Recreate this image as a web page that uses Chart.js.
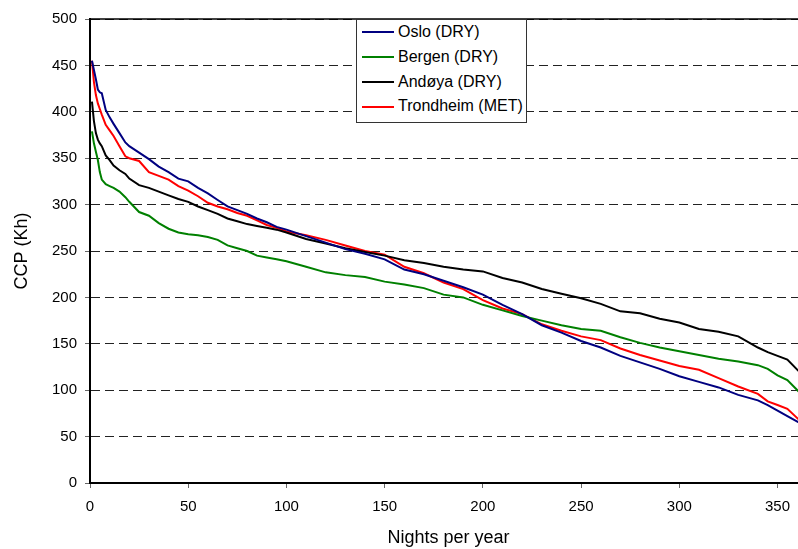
<!DOCTYPE html>
<html>
<head>
    <title>CCP (Kh) - Nights per year</title>
    <script src="https://cdn.jsdelivr.net/npm/chart.js"></script>
    <style>
        html, body {
            margin: 0;
            padding: 0;
            background: #fff;
            overflow: hidden;
        }

        .wrap {
            position: relative;
            width: 810px;
            height: 549px;
        }

        .legend {
            position: absolute;
            left: 356px;
            top: 19px;
            width: 171px;
            height: 104px;
            box-sizing: border-box;
            border: 1px solid #333;
            background: #fff;
            padding-top: 0px;
            font-family: 'Liberation Sans', Arial, sans-serif;
            font-size: 16px;
            color: #000;
        }

        .legend .row {
            height: 24.8px;
            line-height: 24.8px;
            display: flex;
            align-items: center;
            white-space: nowrap;
        }

        .legend .swatch {
            width: 32px;
            height: 2px;
            margin: 0 4px 0 5px;
        }
    </style>
</head>
<body>
    <div class="wrap">
        <canvas id="ccpChart" width="810" height="549"></canvas>
        <div class="legend" id="legend"></div>
    </div>

    <script>
        // nights (sorted duration curve), sampled
        const nights = [1, 2, 3, 4, 5, 6, 8, 10, 12, 15, 18, 20, 25, 30, 35, 40, 45, 50, 55, 60,
            65, 70, 75, 80, 85, 90, 95, 100, 110, 120, 130, 140, 150, 160, 170, 180, 190, 200,
            210, 220, 230, 240, 250, 260, 270, 280, 290, 300, 310, 320, 330, 340, 345, 350, 355, 361];

        const oslo = [455, 445, 435, 424, 421, 420, 402, 394, 387, 377, 367, 363, 356, 349, 341, 335, 328, 325, 318, 312,
            305, 298, 294, 290, 285, 281, 276, 273, 266, 259, 252, 247, 241, 230, 225, 218, 211, 203,
            192, 182, 170, 162, 153, 146, 137, 130, 123, 115, 109, 103, 95, 89, 84, 78, 72, 65];

        const bergen = [379, 366, 357, 348, 335, 327, 322, 320, 318, 314, 308, 303, 292, 288, 280, 274, 270, 268, 267, 265,
            262, 256, 253, 250, 245, 243, 241, 239, 233, 227, 224, 222, 217, 214, 210, 203, 200, 192,
            186, 180, 175, 170, 166, 164, 157, 151, 146, 142, 138, 134, 131, 127, 123, 116, 111, 98];

        const andoya = [411, 390, 377, 370, 366, 363, 353, 348, 342, 337, 333, 328, 321, 318, 314, 310, 306, 303, 298, 294,
            290, 285, 282, 279, 277, 275, 273, 270, 263, 258, 253, 249, 245, 240, 237, 233, 230, 228,
            221, 216, 209, 204, 199, 193, 185, 183, 177, 173, 166, 163, 158, 146, 141, 137, 133, 120];

        const trondheim = [455, 432, 418, 409, 403, 397, 386, 380, 374, 363, 352, 350, 347, 335, 331, 327, 320, 315, 309, 302,
            298, 295, 291, 288, 283, 278, 275, 271, 267, 262, 256, 250, 246, 233, 226, 216, 209, 197,
            188, 182, 171, 164, 158, 154, 145, 138, 132, 126, 122, 113, 104, 96, 88, 84, 80, 68];

        const seriesNames = ['Oslo (DRY)', 'Bergen (DRY)', 'Andøya (DRY)', 'Trondheim (MET)'];
        const seriesColors = ['#000080', '#008000', '#000000', '#ff0000'];
        const seriesValues = [oslo, bergen, andoya, trondheim];

        const xTicksStep = 50;
        const yTicksStep = 50;

        const fontFamily = "'Liberation Sans', Arial, sans-serif";
        Chart.defaults.font.family = fontFamily;
        Chart.defaults.color = '#000';

        // solid frame line along the top of the plot
        const plotFrame = {
            id: 'plotFrame',
            beforeDatasetsDraw(chart) {
                const { ctx, chartArea } = chart;
                ctx.save();
                ctx.strokeStyle = '#000';
                ctx.lineWidth = 1.5;
                ctx.beginPath();
                ctx.moveTo(chartArea.left, chartArea.top);
                ctx.lineTo(chartArea.right, chartArea.top);
                ctx.stroke();
                ctx.restore();
            }
        };

        new Chart(document.getElementById('ccpChart'), {
            type: 'line',
            data: {
                datasets: seriesValues.map((vals, i) => ({
                    label: seriesNames[i],
                    data: nights.map((n, j) => ({ x: n, y: vals[j] })),
                    borderColor: seriesColors[i],
                    borderWidth: 2,
                    pointRadius: 0,
                    tension: 0,
                    fill: false
                }))
            },
            options: {
                responsive: false,
                animation: false,
                layout: { padding: { top: 19, right: 3, left: 0, bottom: 0 } },
                plugins: {
                    legend: { display: false },
                    tooltip: { enabled: false }
                },
                scales: {
                    x: {
                        type: 'linear',
                        min: 0,
                        max: 365,
                        afterFit: (s) => { s.height = 66; },
                        ticks: {
                            stepSize: xTicksStep,
                            includeBounds: false,
                            maxRotation: 0,
                            padding: 10,
                            font: { size: 15 },
                            color: '#000'
                        },
                        grid: {
                            drawOnChartArea: false,
                            tickLength: 5,
                            tickColor: '#666'
                        },
                        border: { color: '#000', width: 2 },
                        title: {
                            display: true,
                            text: 'Nights per year',
                            font: { size: 18 },
                            color: '#000',
                            padding: 0
                        }
                    },
                    y: {
                        min: 0,
                        max: 500,
                        afterFit: (s) => { s.width = 90; },
                        ticks: {
                            stepSize: yTicksStep,
                            padding: 8,
                            font: { size: 15 },
                            color: '#000'
                        },
                        grid: {
                            color: '#222',
                            lineWidth: 1,
                            tickLength: 5,
                            tickColor: '#666',
                            tickBorderDash: []
                        },
                        border: { color: '#000', width: 2, dash: [9, 5] },
                        title: {
                            display: true,
                            text: 'CCP (Kh)',
                            font: { size: 18 },
                            color: '#000',
                            padding: 11
                        }
                    }
                }
            },
            plugins: [plotFrame]
        });

        // legend box inside the plot
        const legendEl = document.getElementById('legend');
        seriesNames.forEach((name, i) => {
            const row = document.createElement('div');
            row.className = 'row';
            const sw = document.createElement('span');
            sw.className = 'swatch';
            sw.style.background = seriesColors[i];
            const label = document.createElement('span');
            label.textContent = name;
            row.appendChild(sw);
            row.appendChild(label);
            legendEl.appendChild(row);
        });
    </script>
</body>
</html>
